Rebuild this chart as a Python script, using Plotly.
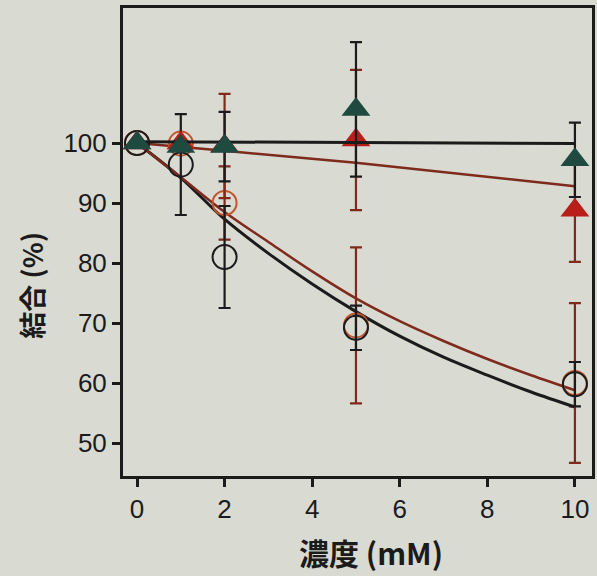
import plotly.graph_objects as go
import numpy as np

# ---- data ----
conc = [0, 1, 2, 5, 10]

black_circle = [100, 96.4, 81.0, 69.2, 59.8]
black_circle_err = [np.nan, 8.4, 8.5, 3.7, 3.7]

red_circle = [100, 99.9, 90.0, 69.6, 60.0]
red_circle_err = [np.nan, np.nan, 6.1, 13.0, 13.3]

red_tri = [100, 100, 99.5, 100.5, 88.8]
red_tri_err = [np.nan, np.nan, 8.7, 11.7, 8.6]

green_tri = [100, 99.4, 99.4, 105.6, 97.2]
green_tri_err = [np.nan, np.nan, 5.8, 11.2, 6.2]

# fitted curves (read at several x positions)
fit_x = [0, 1, 2, 3, 4, 5, 6, 7, 8, 9, 10]
fit_black_low = [100, 94.2, 87.3, 81.6, 76.5, 71.9, 67.8, 64.3, 61.3, 58.5, 56.0]
fit_red_low = [100, 94.3, 88.5, 83.5, 78.6, 74.1, 70.3, 67.0, 64.0, 61.3, 58.8]
fit_flat_x = [0, 5, 10]
fit_flat = [100.2, 100.1, 99.9]
fit_red_high_x = [0, 2, 5, 10]
fit_red_high = [100, 98.7, 96.7, 92.8]

x_ticks = [0, 2, 4, 6, 8, 10]
y_ticks = [50, 60, 70, 80, 90, 100]

BG = "#d9dad2"
BLACK = "#1b1b1b"
RED_LINE = "#7e2a1c"
RED_MARK = "#b81f1a"
RED_CIRC = "#c2542e"
GREEN = "#1e4a40"

fig = go.Figure()

# fitted curves
fig.add_trace(go.Scatter(x=fit_x, y=fit_black_low, mode="lines", line=dict(color=BLACK, width=3, shape="spline"), showlegend=False))
fig.add_trace(go.Scatter(x=fit_x, y=fit_red_low, mode="lines", line=dict(color=RED_LINE, width=2.5, shape="spline"), showlegend=False))
fig.add_trace(go.Scatter(x=fit_red_high_x, y=fit_red_high, mode="lines", line=dict(color=RED_LINE, width=2.5, shape="spline"), showlegend=False))

def eb(err, color):
    return dict(type="data", array=err, visible=True, color=color, thickness=2.2, width=6)

# circles
fig.add_trace(go.Scatter(x=conc, y=red_circle, mode="markers",
                         marker=dict(symbol="circle-open", size=24, color=RED_CIRC, line=dict(width=2, color=RED_CIRC)),
                         error_y=eb(red_circle_err, RED_LINE), showlegend=False))
fig.add_trace(go.Scatter(x=conc, y=black_circle, mode="markers",
                         marker=dict(symbol="circle-open", size=24, color=BLACK, line=dict(width=2, color=BLACK)),
                         error_y=eb(black_circle_err, BLACK), showlegend=False))
# red triangles
fig.add_trace(go.Scatter(x=conc, y=red_tri, mode="markers",
                         marker=dict(symbol="triangle-up", size=25, color=RED_MARK, line=dict(width=0)),
                         error_y=eb(red_tri_err, RED_LINE), showlegend=False))
# flat line
fig.add_trace(go.Scatter(x=fit_flat_x, y=fit_flat, mode="lines", line=dict(color=BLACK, width=3, shape="spline"), showlegend=False))
# green triangles
fig.add_trace(go.Scatter(x=conc, y=green_tri, mode="markers",
                         marker=dict(symbol="triangle-up", size=25, color=GREEN, line=dict(width=0)),
                         error_y=eb(green_tri_err, BLACK), showlegend=False))

axis_common = dict(showgrid=False, zeroline=False, showline=True, linecolor=BLACK, linewidth=3,
                   mirror=True, ticks="outside", ticklen=8, tickwidth=2.5, tickcolor=BLACK,
                   tickfont=dict(family="Liberation Sans, Arial", size=26, color=BLACK))

fig.update_xaxes(range=[-0.32, 10.39], tickvals=x_ticks, ticktext=[str(v) for v in x_ticks], **axis_common)
fig.update_yaxes(range=[44.5, 122.5], tickvals=y_ticks, ticktext=[str(v) for v in y_ticks], **axis_common)

fig.update_layout(
    width=597, height=576,
    margin=dict(l=123, r=2, t=8, b=100),
    paper_bgcolor=BG, plot_bgcolor=BG,
    annotations=[
        dict(text="<b>結合 (%)</b>", xref="paper", yref="paper", x=-0.197, y=0.408,
             textangle=-90, showarrow=False, xanchor="center", yanchor="middle",
             font=dict(family="Noto Sans CJK JP", size=27, color=BLACK)),
        dict(text="<b>濃度 (mM)</b>", xref="paper", yref="paper", x=0.528, y=-0.162,
             showarrow=False, xanchor="center", yanchor="middle",
             font=dict(family="Noto Sans CJK JP", size=30, color=BLACK)),
    ],
)

fig.write_html("out.html")
